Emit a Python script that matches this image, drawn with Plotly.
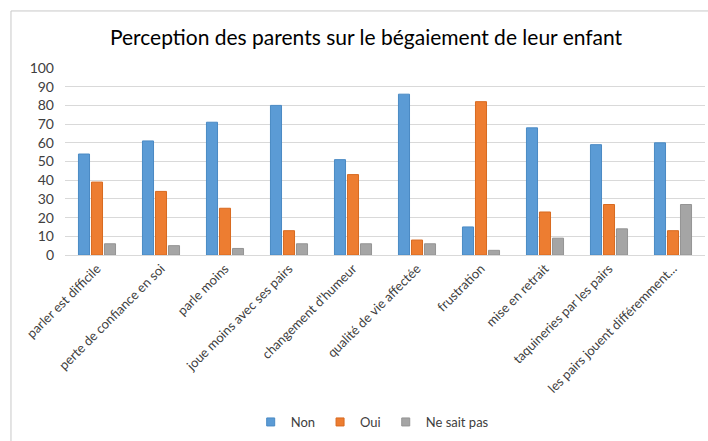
import plotly.graph_objects as go

categories = ["parler est difficile", "perte de confiance en soi", "parle moins",
              "joue moins avec ses pairs", "changement d'humeur", "qualité de vie affectée",
              "frustration", "mise en retrait", "taquineries par les pairs",
              "les pairs jouent différemment..."]
non = [54, 61, 71, 80, 51, 86, 15, 68, 59, 60]
oui = [39, 34, 25, 13, 43, 8, 82, 23, 27, 13]
nsp = [6, 5, 3.5, 6, 6, 6, 2.5, 9, 14, 27]

series = [("Non", non, "#5B9BD5", "#4A8AC4"),
          ("Oui", oui, "#ED7D31", "#D86A20"),
          ("Ne sait pas", nsp, "#A5A5A5", "#949494")]

fig = go.Figure()
for name, vals, col, edge in series:
    fig.add_trace(go.Bar(x=categories, y=vals, name=name, showlegend=False,
                         marker=dict(color=col, line=dict(color=edge, width=1))))
    # compact square legend entry
    fig.add_trace(go.Scatter(x=[None], y=[None], mode="markers", name=name,
                             marker=dict(symbol="square", size=8, color=col,
                                         line=dict(color=edge, width=1))))

fig.update_layout(
    width=708, height=441,
    margin=dict(l=65, r=3, t=68, b=186, autoexpand=False),
    paper_bgcolor="white", plot_bgcolor="white",
    font=dict(family="Lato", size=13, color="#404040"),
    title=dict(text="Perception des parents sur le bégaiement de leur enfant",
               x=0.517, xanchor="center", y=0.915, yanchor="middle",
               font=dict(family="Lato", size=21, color="#000000")),
    barmode="group", bargap=0.39, bargroupgap=0.15,
    showlegend=True,
    legend=dict(orientation="h", x=0.48, xanchor="center", y=-0.893, yanchor="middle",
                font=dict(size=13, color="#404040"), itemwidth=30,
                traceorder="normal"),
)
fig.update_yaxes(range=[0, 100], dtick=10, showgrid=True, gridcolor="#D9D9D9",
                 zeroline=False, tickfont=dict(size=14, color="#404040"),
                 ticks="", ticklabelstandoff=10, automargin=False)
fig.update_xaxes(tickangle=-45, showline=True, linecolor="#D9D9D9", linewidth=1,
                 tickfont=dict(size=13, color="#404040"), automargin=False)

# chart frame (left and top edges visible)
fig.add_shape(type="line", xref="paper", yref="paper", x0=-0.0844, x1=-0.0844,
              y0=-1.2, y1=1.305, line=dict(color="#C8C8C8", width=1))
fig.add_shape(type="line", xref="paper", yref="paper", x0=-0.0844, x1=1.2,
              y0=1.305, y1=1.305, line=dict(color="#C8C8C8", width=1))

fig.write_html("out.html", config={"displayModeBar": False},
               post_script="document.body.style.margin='0';")
